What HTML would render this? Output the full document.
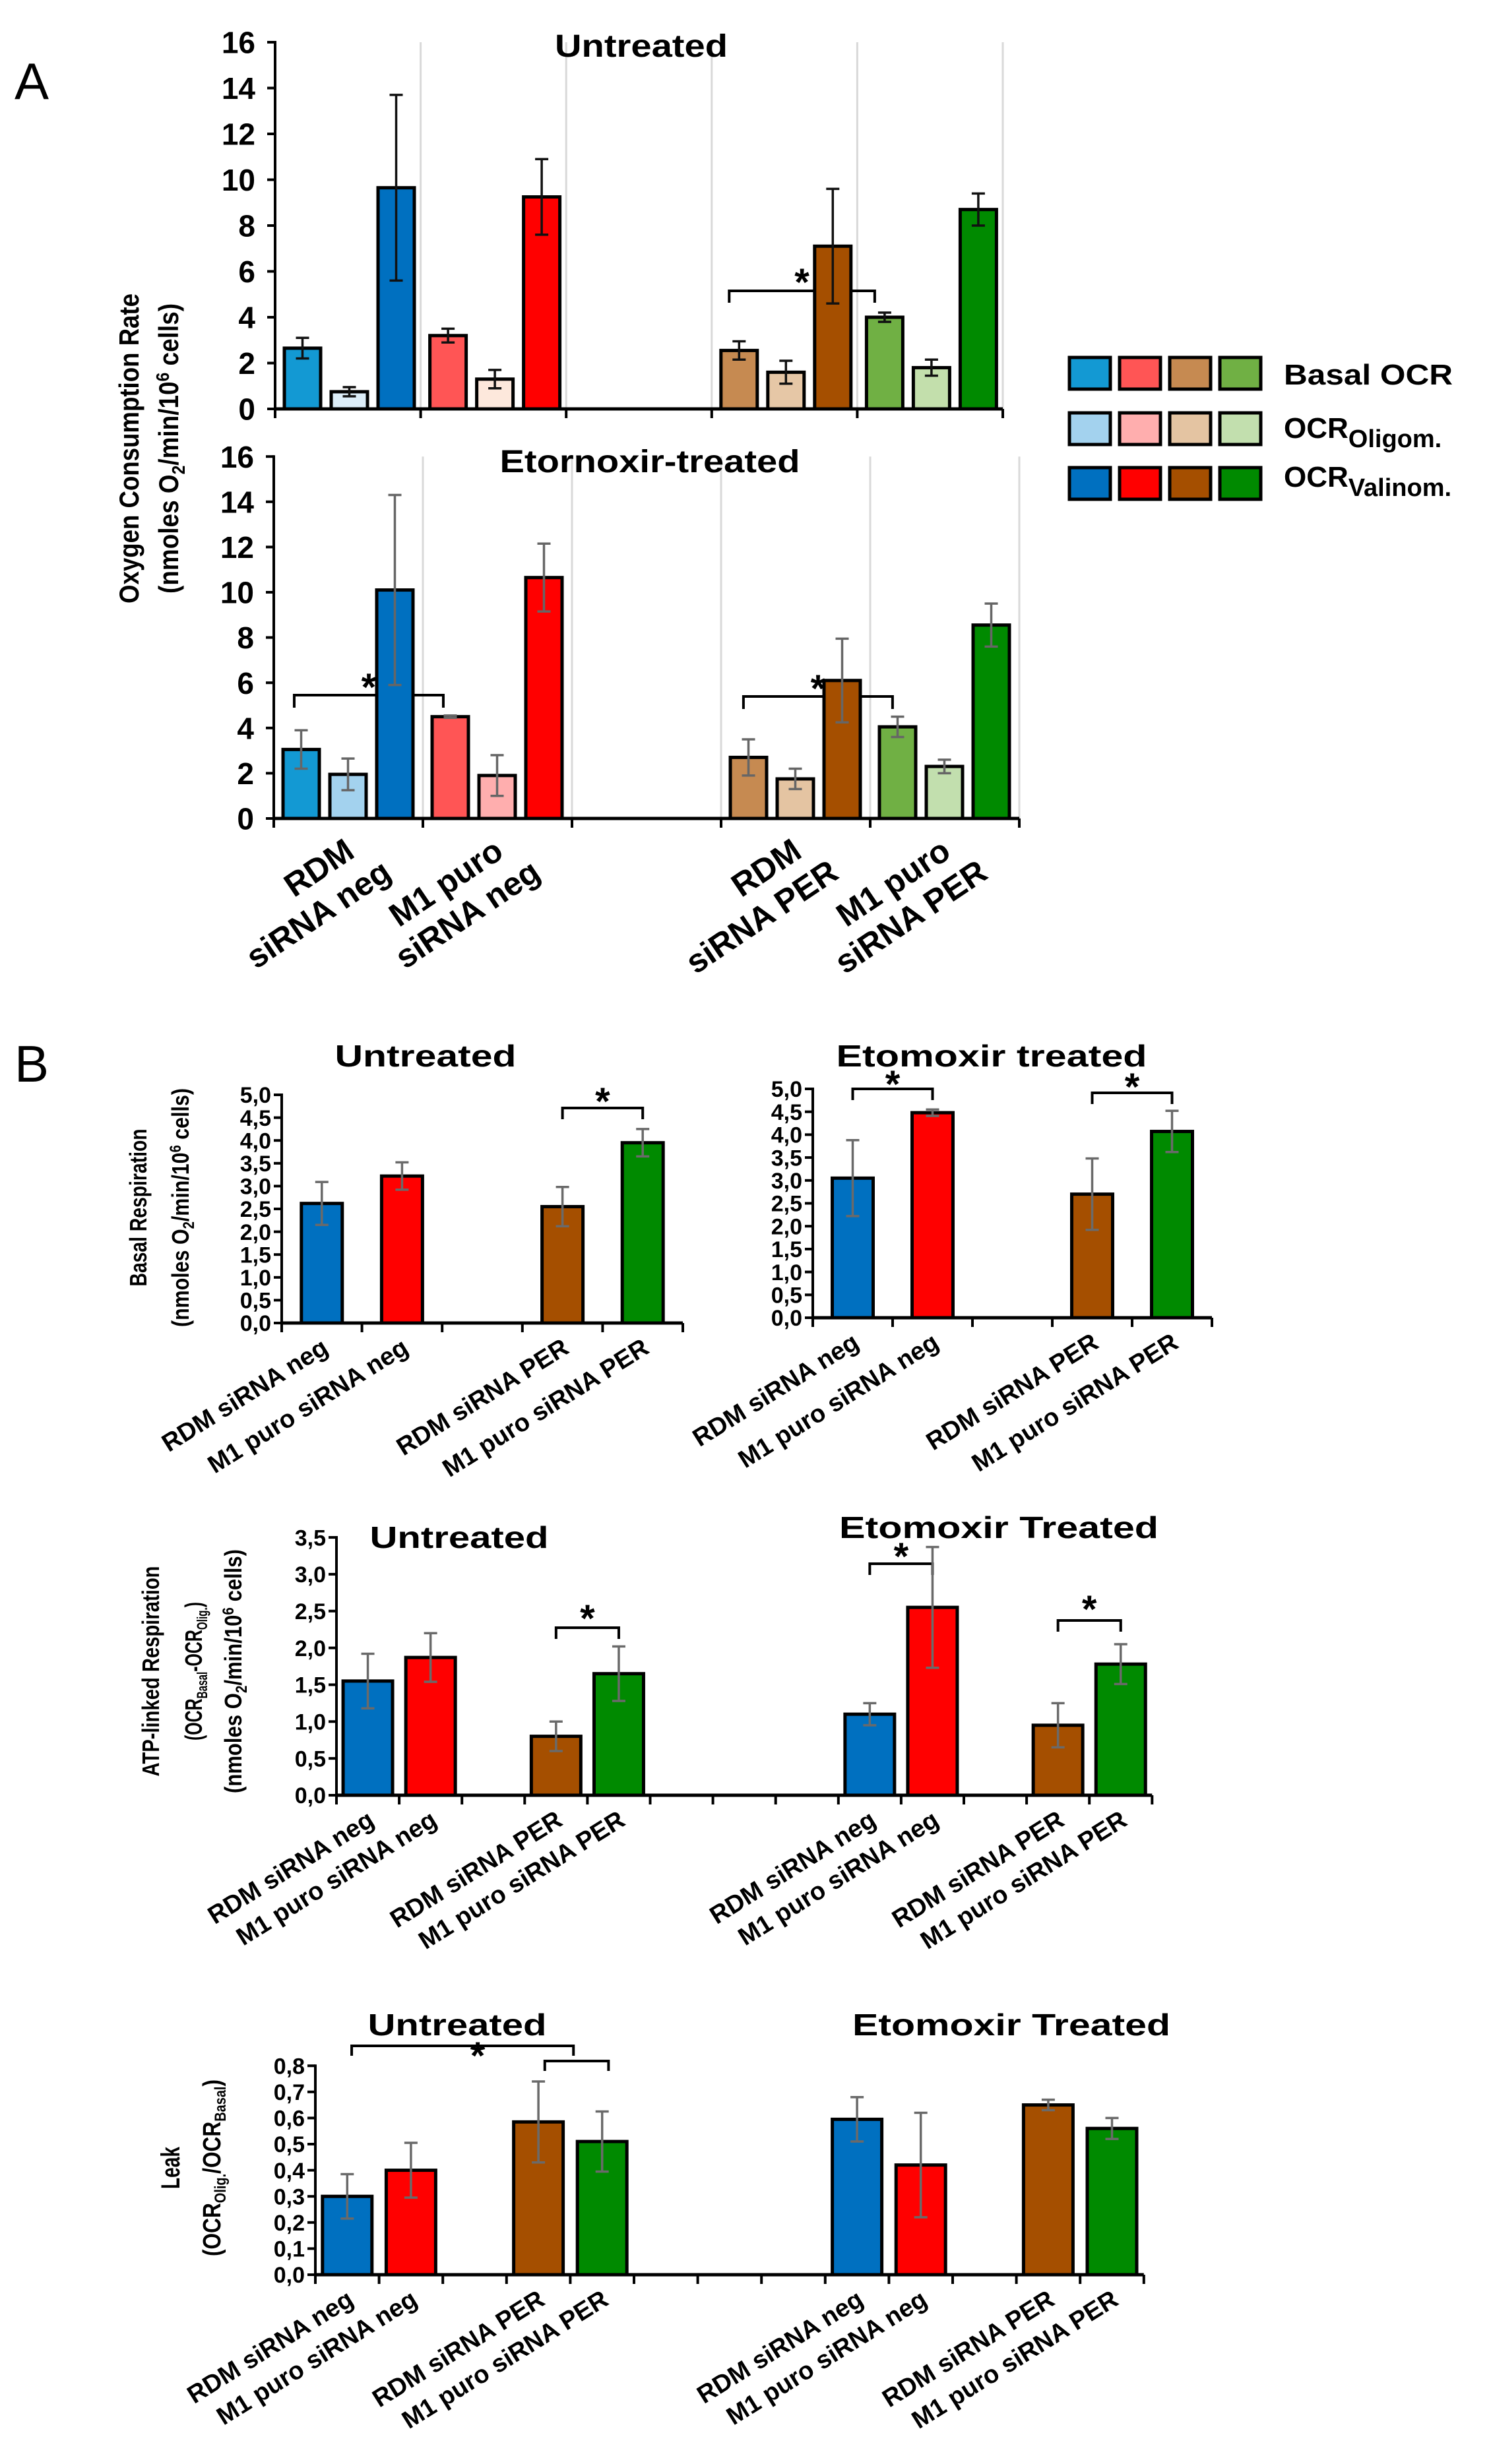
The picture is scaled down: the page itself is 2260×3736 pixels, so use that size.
<!DOCTYPE html>
<html><head><meta charset="utf-8">
<style>
html,body{margin:0;padding:0;background:#fff;}
svg{display:block;}
text{font-family:"Liberation Sans",Arial,sans-serif;font-weight:bold;fill:#000;}
</style></head>
<body>
<svg id="fig" xmlns="http://www.w3.org/2000/svg" width="2260" height="3736" viewBox="0 0 2260 3736">
<rect x="0" y="0" width="2260" height="3736" fill="#fff"/>
<text x="22" y="150" font-size="78" style="font-weight:normal">A</text>
<text x="22" y="1640" font-size="78" style="font-weight:normal">B</text>
</svg>
<script>
// ---------- Panel A data ----------
const aCatLine1 = ["RDM","M1 puro","","RDM","M1 puro"];
const aCatLine2 = ["siRNA neg","siRNA neg","","siRNA PER","siRNA PER"];
const aCatIdx = [0,1,3,4];
const aYTicks = [0,2,4,6,8,10,12,14,16];
const aTopBasal = [2.65,3.2,2.55,4.0];
const aTopBasalErr = [0.45,0.3,0.4,0.2];
const aTopOligo = [0.75,1.3,1.6,1.8];
const aTopOligoErr = [0.2,0.4,0.5,0.35];
const aTopValin = [9.65,9.25,7.1,8.7];
const aTopValinErr = [4.05,1.65,2.5,0.7];
const aBotBasal = [3.05,4.5,2.7,4.05];
const aBotBasalErr = [0.85,0.05,0.8,0.45];
const aBotOligo = [1.95,1.9,1.75,2.3];
const aBotOligoErr = [0.7,0.9,0.45,0.3];
const aBotValin = [10.1,10.65,6.1,8.55];
const aBotValinErr = [4.2,1.5,1.85,0.95];
// ---------- Panel B data ----------
const bLabels4 = ["RDM siRNA neg","M1 puro siRNA neg","RDM siRNA PER","M1 puro siRNA PER"];
const bLabels8 = ["RDM siRNA neg","M1 puro siRNA neg","RDM siRNA PER","M1 puro siRNA PER","RDM siRNA neg","M1 puro siRNA neg","RDM siRNA PER","M1 puro siRNA PER"];
const bIdx4 = [0,1,3,4];
const bIdx8 = [0,1,3,4,8,9,11,12];
const bBasalTicks = [0,0.5,1,1.5,2,2.5,3,3.5,4,4.5,5];
const bBasalUnt = [2.62,3.22,2.55,3.95];
const bBasalUntErr = [0.47,0.3,0.43,0.3];
const bBasalEto = [3.05,4.48,2.7,4.07];
const bBasalEtoErr = [0.83,0.07,0.78,0.45];
const bAtpTicks = [0,0.5,1,1.5,2,2.5,3,3.5];
const bAtp = [1.55,1.87,0.8,1.65,1.1,2.55,0.95,1.78];
const bAtpErr = [0.37,0.33,0.2,0.37,0.15,0.82,0.3,0.27];
const bLeakTicks = [0,0.1,0.2,0.3,0.4,0.5,0.6,0.7,0.8];
const bLeak = [0.3,0.4,0.585,0.51,0.595,0.42,0.65,0.56];
const bLeakErr = [0.085,0.105,0.155,0.115,0.085,0.2,0.02,0.04];

const aBasalCol = ["#1399d3","#ff5555","#c68a51","#70b044"];
const aOligoTopCol = ["#dcedf8","#fde8dc","#e6c7a6","#c3dfac"];
const aOligoBotCol = ["#a3d2ee","#ffaeae","#e4c4a2","#c2dfae"];
const aValinCol = ["#0070c0","#ff0000","#a54f00","#008a00"];
const bCol4 = ["#0070c0","#ff0000","#a54f00","#008a00"];

const NS = "http://www.w3.org/2000/svg";
const svg = document.getElementById('fig');
function mk(tag, attrs, name, parent) {
  const el = document.createElementNS(NS, tag);
  for (const k in attrs) el.setAttribute(k, attrs[k]);
  
  
  (parent || svg).appendChild(el);
  return el;
}
function txt(x, y, s, size, name, extra) {
  const t = mk('text', Object.assign({x:x, y:y, 'font-size':size}, extra||{}), name);
  t.textContent = s;
  return t;
}

function axes(c) {
  const top = c.zero - c.ticks[c.ticks.length-1]*c.unit;
  if (c.grid) {
    for (let i = 1; i <= c.nCats; i++) {
      mk('line', {x1:c.x0+i*c.catW, x2:c.x0+i*c.catW, y1:top, y2:c.zero, stroke:'#d9d9d9', 'stroke-width':3}, 'gridline');
    }
  }
  c.ticks.forEach(v => {
    const y = c.zero - v*c.unit;
    mk('line', {x1:c.x0-12, x2:c.x0, y1:y, y2:y, stroke:'#000', 'stroke-width':4}, 'y-tick');
    txt(c.x0-c.labGap, y + c.fs*0.36, c.fmt(v), c.fs, 'y-tick-label', {'text-anchor':'end'});
  });
  mk('line', {x1:c.x0, x2:c.x0, y1:top-2, y2:c.zero, stroke:'#000', 'stroke-width':4}, 'y-axis');
  for (let i = 0; i <= c.nCats; i++) {
    mk('line', {x1:c.x0+i*c.catW, x2:c.x0+i*c.catW, y1:c.zero, y2:c.zero+14, stroke:'#000', 'stroke-width':4}, 'x-tick');
  }
}
function xaxis(c) {
  mk('line', {x1:c.x0, x2:c.x0+c.nCats*c.catW, y1:c.zero, y2:c.zero, stroke:'#000', 'stroke-width':c.axW||5}, 'x-axis');
}
function bar(c, cat, off, w, v, e, col, ecol, name) {
  const x = c.x0 + cat*c.catW + off;
  const y = c.zero - v*c.unit;
  mk('rect', {x:x, y:y, width:w, height:v*c.unit, fill:col, stroke:'#000', 'stroke-width':5}, name);
  const cx = x + w/2;
  const y1 = c.zero - (v+e)*c.unit, y2 = c.zero - (v-e)*c.unit;
  mk('line', {x1:cx, x2:cx, y1:y1, y2:y2, stroke:ecol, 'stroke-width':3.5}, 'error-bar');
  mk('line', {x1:cx-10, x2:cx+10, y1:y1, y2:y1, stroke:ecol, 'stroke-width':3.5}, 'error-cap');
  mk('line', {x1:cx-10, x2:cx+10, y1:y2, y2:y2, stroke:ecol, 'stroke-width':3.5}, 'error-cap');
}
function bracket(c, p1, p2, y, drop, sy) {
  const x1 = c.x0 + p1*c.catW, x2 = c.x0 + p2*c.catW;
  mk('path', {d:`M${x1},${y+drop} L${x1},${y} L${x2},${y} L${x2},${y+drop}`, fill:'none', stroke:'#000', 'stroke-width':4}, 'significance-bracket');
  if (sy !== null) txt((x1+x2)/2, sy, '*', 58, 'significance-star', {'text-anchor':'middle'});
}

// ---------- Panel A ----------
const fmtInt = v => String(v);
const aTop = {x0:417, zero:620, unit:34.75, catW:220.6, nCats:5, ticks:aYTicks, fmt:fmtInt, fs:46, labGap:30, grid:true};
const aBot = {x0:415, zero:1241, unit:34.3, catW:226, nCats:5, ticks:aYTicks, fmt:fmtInt, fs:46, labGap:30, grid:true};
axes(aTop); axes(aBot);
bracket(aTop, 3.12, 4.12, 441, 18, 448);
bracket(aBot, 0.137, 1.137, 1054, 19, 1062);
bracket(aBot, 3.15, 4.15, 1056, 19, 1064);
[[aTop, aTopBasal, aTopBasalErr, aTopOligo, aTopOligoErr, aTopValin, aTopValinErr, aOligoTopCol, '#111'],
 [aBot, aBotBasal, aBotBasalErr, aBotOligo, aBotOligoErr, aBotValin, aBotValinErr, aOligoBotCol, '#666']].forEach(s => {
  const c = s[0];
  aCatIdx.forEach((ci, i) => {
    bar(c, ci, 14, 55, s[1][i], s[2][i], aBasalCol[i], s[8], 'bar-basal-ocr');
    bar(c, ci, 85, 55, s[3][i], s[4][i], s[7][i], s[8], 'bar-ocr-oligom');
    bar(c, ci, 156, 55, s[5][i], s[6][i], aValinCol[i], s[8], 'bar-ocr-valinom');
  });
  xaxis(c);
});
txt(972, 86, 'Untreated', 48, 'chart-title-untreated', {'text-anchor':'middle', textLength:262, lengthAdjust:'spacingAndGlyphs'});
txt(985, 716, 'Etornoxir-treated', 48, 'chart-title-etomoxir', {'text-anchor':'middle', textLength:455, lengthAdjust:'spacingAndGlyphs'});
aCatIdx.forEach(ci => {
  const cx = aBot.x0 + (ci+0.5)*aBot.catW;
  txt(cx+12, 1298, aCatLine1[ci], 50, 'x-category-label', {'text-anchor':'end', transform:`rotate(-34 ${cx+12} 1298)`});
  txt(cx+68, 1330, aCatLine2[ci], 50, 'x-category-label', {'text-anchor':'end', transform:`rotate(-34 ${cx+68} 1330)`});
});
// y title A
txt(0, 0, 'Oxygen Consumption Rate', 42, 'y-axis-title', {'text-anchor':'middle', transform:'translate(210 680) rotate(-90)', textLength:470, lengthAdjust:'spacingAndGlyphs'});
let yt = mk('text', {x:0, y:0, 'font-size':42, 'text-anchor':'middle', transform:'translate(270 680) rotate(-90)', textLength:440, lengthAdjust:'spacingAndGlyphs'}, 'y-axis-units');
yt.innerHTML = '(nmoles O<tspan font-size="28" dy="10">2</tspan><tspan dy="-10">/min/10</tspan><tspan font-size="28" dy="-14">6</tspan><tspan dy="14"> cells)</tspan>';

// legend
const legRows = [aBasalCol, aOligoBotCol, aValinCol];
const legY = [542, 626, 709];
legRows.forEach((cols, r) => {
  cols.forEach((col, i) => {
    mk('rect', {x:1621 + i*76, y:legY[r], width:62, height:48, fill:col, stroke:'#000', 'stroke-width':5}, 'legend-swatch');
  });
});
txt(1946, 583, 'Basal OCR', 44, 'legend-label-basal', {textLength:256, lengthAdjust:'spacingAndGlyphs'});
let lg = mk('text', {x:1946, y:664, 'font-size':44}, 'legend-label-oligom');
lg.innerHTML = 'OCR<tspan font-size="38" dy="14">Oligom.</tspan>';
lg = mk('text', {x:1946, y:738, 'font-size':44}, 'legend-label-valinom');
lg.innerHTML = 'OCR<tspan font-size="38" dy="14">Valinom.</tspan>';

// ---------- Panel B ----------
const fmtDec = v => v.toFixed(1).replace('.', ',');
function bLabels(c, idx, labels) {
  idx.forEach((ci, i) => {
    const cx = c.x0 + (ci+0.5)*c.catW;
    const x = cx + 12, y = c.zero + 44;
    txt(x, y, labels[i], 38, 'x-category-label', {'text-anchor':'end', transform:`rotate(-32 ${x} ${y})`});
  });
}
function bChart(c, idx, vals, errs, labels, w) {
  axes(c);
  idx.forEach((ci, i) => bar(c, ci, (c.catW-w)/2, w, vals[i], errs[i], bCol4[i%4], '#6a6a6a', 'bar-' + labels[i].toLowerCase().replace(/ /g,'-')));
  xaxis(c);
  bLabels(c, idx, labels);
}
const b1L = {x0:427, zero:2006, unit:69.2, catW:121.6, nCats:5, ticks:bBasalTicks, fmt:fmtDec, fs:34, labGap:16};
const b1R = {x0:1232, zero:1998, unit:69.4, catW:121, nCats:5, ticks:bBasalTicks, fmt:fmtDec, fs:34, labGap:16};
const b2 = {x0:510, zero:2722, unit:111.7, catW:95.1, nCats:13, ticks:bAtpTicks, fmt:fmtDec, fs:34, labGap:16};
const b3 = {x0:478, zero:3449, unit:396, catW:96.6, nCats:13, ticks:bLeakTicks, fmt:fmtDec, fs:34, labGap:16};

bracket(b1L, 3.5, 4.5, 1680, 17, 1690);
bracket(b1R, 0.5, 1.5, 1651, 17, 1664);
bracket(b1R, 3.5, 4.5, 1657, 17, 1668);
bracket(b2, 3.5, 4.5, 2468, 17, 2474);
bracket(b2, 8.5, 9.5, 2371, 17, 2380);
bracket(b2, 11.5, 12.5, 2457, 17, 2460);
bracket(b3, 0.57, 4.05, 3102, 15, null);
bracket(b3, 3.6, 4.6, 3125, 15, null);
txt(724, 3137, '*', 58, 'significance-star', {'text-anchor':'middle'});

bChart(b1L, bIdx4, bBasalUnt, bBasalUntErr, bLabels4, 62);
bChart(b1R, bIdx4, bBasalEto, bBasalEtoErr, bLabels4, 62);
bChart(b2, bIdx8, bAtp, bAtpErr, bLabels8, 75);
bChart(b3, bIdx8, bLeak, bLeakErr, bLabels8, 75);

txt(645, 1617, 'Untreated', 46, 'chart-title-untreated', {'text-anchor':'middle', textLength:275, lengthAdjust:'spacingAndGlyphs'});
txt(1503, 1617, 'Etomoxir treated', 46, 'chart-title-etomoxir', {'text-anchor':'middle', textLength:471, lengthAdjust:'spacingAndGlyphs'});
txt(696, 2347, 'Untreated', 46, 'chart-title-untreated', {'text-anchor':'middle', textLength:271, lengthAdjust:'spacingAndGlyphs'});
txt(1514, 2332, 'Etomoxir Treated', 46, 'chart-title-etomoxir', {'text-anchor':'middle', textLength:484, lengthAdjust:'spacingAndGlyphs'});
txt(693, 3086, 'Untreated', 46, 'chart-title-untreated', {'text-anchor':'middle', textLength:271, lengthAdjust:'spacingAndGlyphs'});
txt(1533, 3086, 'Etomoxir Treated', 46, 'chart-title-etomoxir', {'text-anchor':'middle', textLength:482, lengthAdjust:'spacingAndGlyphs'});

// y titles B
txt(0, 0, 'Basal Respiration', 36, 'y-axis-title', {'text-anchor':'middle', transform:'translate(222 1831) rotate(-90)', textLength:239, lengthAdjust:'spacingAndGlyphs'});
let u = mk('text', {x:0, y:0, 'font-size':36, 'text-anchor':'middle', transform:'translate(286 1831) rotate(-90)', textLength:362, lengthAdjust:'spacingAndGlyphs'}, 'y-axis-units');
u.innerHTML = '(nmoles O<tspan font-size="24" dy="8">2</tspan><tspan dy="-8">/min/10</tspan><tspan font-size="24" dy="-12">6</tspan><tspan dy="12"> cells)</tspan>';
txt(0, 0, 'ATP-linked Respiration', 36, 'y-axis-title', {'text-anchor':'middle', transform:'translate(241 2534) rotate(-90)', textLength:319, lengthAdjust:'spacingAndGlyphs'});
u = mk('text', {x:0, y:0, 'font-size':36, 'text-anchor':'middle', transform:'translate(306 2534) rotate(-90)', textLength:210, lengthAdjust:'spacingAndGlyphs'}, 'y-axis-formula');
u.innerHTML = '(OCR<tspan font-size="22" dy="8">Basal</tspan><tspan dy="-8">-OCR</tspan><tspan font-size="22" dy="8">Olig.</tspan><tspan dy="-8">)</tspan>';
u = mk('text', {x:0, y:0, 'font-size':36, 'text-anchor':'middle', transform:'translate(366 2534) rotate(-90)', textLength:370, lengthAdjust:'spacingAndGlyphs'}, 'y-axis-units');
u.innerHTML = '(nmoles O<tspan font-size="24" dy="8">2</tspan><tspan dy="-8">/min/10</tspan><tspan font-size="24" dy="-12">6</tspan><tspan dy="12"> cells)</tspan>';
txt(0, 0, 'Leak', 40, 'y-axis-title', {'text-anchor':'middle', transform:'translate(272 3287) rotate(-90)', textLength:64, lengthAdjust:'spacingAndGlyphs'});
u = mk('text', {x:0, y:0, 'font-size':38, 'text-anchor':'middle', transform:'translate(334 3287) rotate(-90)', textLength:268, lengthAdjust:'spacingAndGlyphs'}, 'y-axis-formula');
u.innerHTML = '(OCR<tspan font-size="24" dy="8">Olig.</tspan><tspan dy="-8">/OCR</tspan><tspan font-size="24" dy="8">Basal</tspan><tspan dy="-8">)</tspan>';
</script>
</body></html>
